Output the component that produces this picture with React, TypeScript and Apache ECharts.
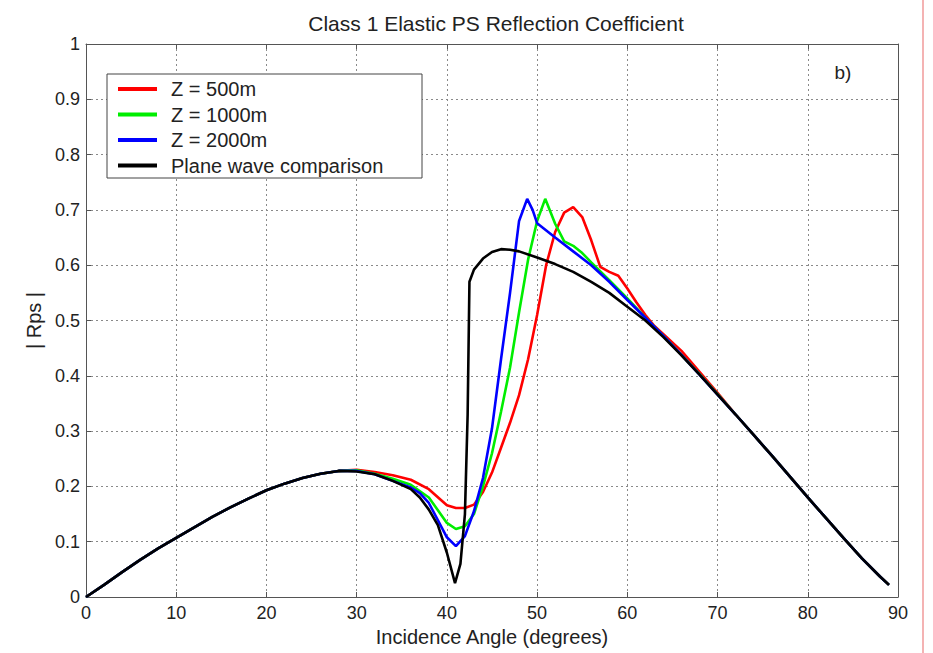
import React, { useEffect, useRef } from "react";
import * as echarts from "echarts";

// Shared low-angle part (all curves coincide)
const lowAngles = [0, 2, 4, 6, 8, 10, 12, 14, 16, 18, 20, 22, 24, 26, 28];
const lowValues = [0, 0.022, 0.045, 0.067, 0.088, 0.107, 0.126, 0.145, 0.162, 0.178, 0.193, 0.205, 0.215, 0.223, 0.228];

// Shared high-angle tail (all curves coincide)
const tailAngles = [72, 74, 76, 78, 80, 82, 84, 86, 88, 89];
const tailValues = [0.33, 0.293, 0.256, 0.218, 0.18, 0.143, 0.106, 0.07, 0.037, 0.022];

// Z = 500m
const redAngles = [30, 32, 34, 36, 38, 40, 41, 42, 43, 44, 45, 46, 47, 48, 49, 50, 51, 52, 53, 54, 55, 56, 57, 58, 59, 60, 61, 62, 63, 64, 66, 68, 70];
const redValues = [0.23, 0.226, 0.22, 0.212, 0.195, 0.166, 0.161, 0.161, 0.167, 0.19, 0.225, 0.27, 0.315, 0.365, 0.43, 0.51, 0.6, 0.66, 0.695, 0.705, 0.687, 0.645, 0.597, 0.588, 0.581, 0.558, 0.533, 0.51, 0.49, 0.475, 0.445, 0.407, 0.369];

// Z = 1000m
const greenAngles = [30, 32, 34, 36, 38, 40, 41, 42, 43, 44, 45, 46, 47, 48, 49, 50, 50.9, 52, 53, 54, 55, 56, 58, 60, 62, 64, 66, 68, 70];
const greenValues = [0.229, 0.223, 0.214, 0.203, 0.18, 0.134, 0.123, 0.128, 0.15, 0.2, 0.26, 0.335, 0.415, 0.515, 0.61, 0.68, 0.72, 0.675, 0.643, 0.635, 0.622, 0.605, 0.573, 0.54, 0.505, 0.472, 0.438, 0.403, 0.367];

// Z = 2000m
const blueAngles = [30, 32, 34, 36, 37, 38, 40, 41, 42, 43, 44, 45, 46, 47, 48, 48.9, 49.5, 50, 52, 54, 56, 58, 60, 62, 64, 66, 68, 70];
const blueValues = [0.228, 0.222, 0.21, 0.198, 0.188, 0.17, 0.108, 0.092, 0.11, 0.155, 0.215, 0.305, 0.43, 0.55, 0.68, 0.72, 0.7, 0.676, 0.65, 0.625, 0.6, 0.57, 0.537, 0.505, 0.472, 0.438, 0.402, 0.366];

// Plane wave comparison
const blackAngles = [30, 32, 34, 36, 37, 38, 39, 40, 40.9, 41.5, 42, 42.3, 42.5, 43, 44, 45, 46, 47, 48, 50, 52, 54, 56, 58, 60, 62, 64, 66, 68, 70];
const blackValues = [0.227, 0.222, 0.21, 0.195, 0.18, 0.158, 0.13, 0.08, 0.025, 0.06, 0.15, 0.33, 0.57, 0.592, 0.612, 0.624, 0.629, 0.628, 0.625, 0.614, 0.602, 0.588, 0.57, 0.55, 0.525, 0.5, 0.47, 0.437, 0.402, 0.366];

const seriesNames = ["Z = 500m", "Z = 1000m", "Z = 2000m", "Plane wave comparison"];
const seriesColors = ["#ff0000", "#00ee00", "#0000ff", "#000000"];

const xTicks = { min: 0, max: 90, interval: 10 };
const yTicks = { min: 0, max: 1, interval: 0.1 };

function build(mid: number[], midV: number[]) {
  const xs = [...lowAngles, ...mid, ...tailAngles];
  const ys = [...lowValues, ...midV, ...tailValues];
  return xs.map((x, i) => [x, ys[i]]);
}

const FONT = "Liberation Sans, Arial, sans-serif";

export default function App() {
  const ref = useRef<HTMLDivElement>(null);
  useEffect(() => {
    if (!ref.current) return;
    const chart = echarts.init(ref.current, undefined, { renderer: "svg" });
    const data = [
      build(redAngles, redValues),
      build(greenAngles, greenValues),
      build(blueAngles, blueValues),
      build(blackAngles, blackValues),
    ];
    const gridLine = { show: true, lineStyle: { type: [2, 3] as any, color: "#8a8a8a", width: 1 } };
    const axisLine = { show: true, onZero: false, lineStyle: { color: "#555", width: 1 } };
    const tick = { show: true, inside: true, length: 5, lineStyle: { color: "#555" } };
    chart.setOption({
      animation: false,
      backgroundColor: "#ffffff",
      textStyle: { fontFamily: FONT },
      title: {
        text: "Class 1 Elastic PS Reflection Coefficient",
        left: 491,
        top: 8,
        textAlign: "center",
        textStyle: { fontFamily: FONT, fontSize: 21, fontWeight: "normal", color: "#222" },
      },
      grid: { left: 86, right: 35, top: 44, bottom: 56, containLabel: false },
      legend: {
        orient: "vertical",
        left: 107,
        top: 74,
        padding: [5, 10, 4, 11],
        itemGap: 5.5,
        itemWidth: 39,
        itemHeight: 4,
        icon: "rect",
        data: seriesNames,
        textStyle: { fontFamily: FONT, fontSize: 20, color: "#222", lineHeight: 20, padding: [0, 0, 0, 9] },
        z: 10,
      },
      xAxis: [
        {
          type: "value",
          position: "bottom",
          ...xTicks,
          axisLine,
          axisTick: tick,
          splitLine: gridLine,
          axisLabel: { color: "#222", fontSize: 18, margin: 7, fontFamily: FONT },
          name: "Incidence Angle (degrees)",
          nameLocation: "middle",
          nameGap: 27,
          nameTextStyle: { color: "#222", fontSize: 20, fontFamily: FONT, verticalAlign: "top" },
        },
        {
          type: "value",
          position: "top",
          ...xTicks,
          axisLine,
          axisTick: tick,
          axisLabel: { show: false },
          splitLine: { show: false },
        },
      ],
      yAxis: [
        {
          type: "value",
          position: "left",
          ...yTicks,
          axisLine,
          axisTick: tick,
          splitLine: gridLine,
          axisLabel: { color: "#222", fontSize: 18, margin: 6, fontFamily: FONT },
          name: "| Rps |",
          nameLocation: "middle",
          nameGap: 42,
          nameTextStyle: { color: "#222", fontSize: 20, fontFamily: FONT },
        },
        {
          type: "value",
          position: "right",
          ...yTicks,
          axisLine,
          axisTick: tick,
          axisLabel: { show: false },
          splitLine: { show: false },
        },
      ],
      graphic: [
        {
          type: "rect",
          shape: { x: 107, y: 74, width: 315, height: 104 },
          style: { fill: "#ffffff", stroke: "#444", lineWidth: 1 },
          z: 5,
        },
        {
          type: "text",
          x: 843,
          y: 72,
          style: { text: "b)", font: `19px ${FONT}`, fill: "#222", textAlign: "center", textVerticalAlign: "middle" },
          z: 6,
        },
        {
          type: "line",
          shape: { x1: 923, y1: 0, x2: 923, y2: 653 },
          style: { stroke: "#f09a9a", lineWidth: 1.5 },
        },
      ],
      series: data.map((d, i) => ({
        name: seriesNames[i],
        type: "line",
        data: d,
        showSymbol: false,
        symbol: "none",
        color: seriesColors[i],
        lineStyle: { color: seriesColors[i], width: 2.6 },
        z: 2 + i,
      })),
    });
    return () => chart.dispose();
  }, []);
  return (
    <div
      ref={ref}
      style={{ position: "fixed", left: 0, top: 0, width: 933, height: 653, background: "#fff" }}
    />
  );
}
